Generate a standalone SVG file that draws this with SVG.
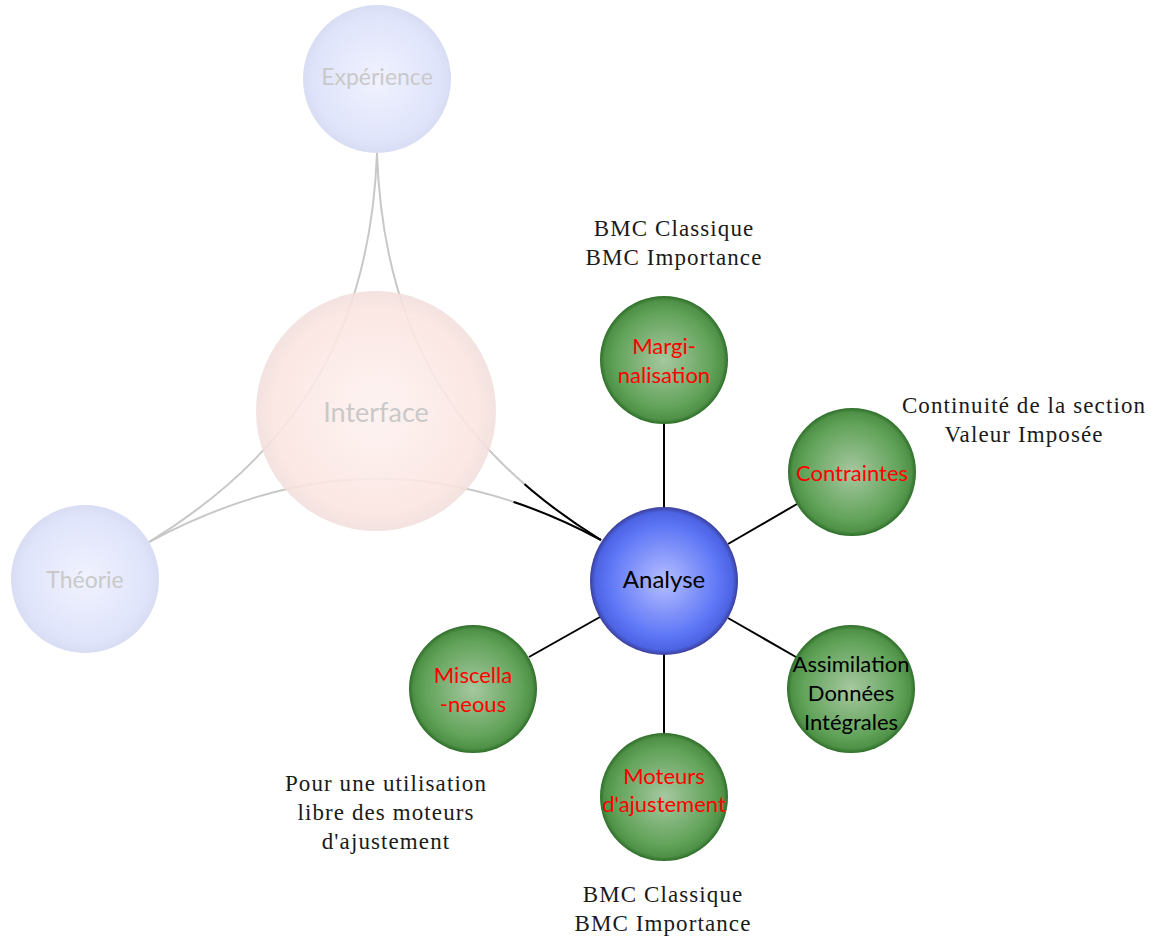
<svg xmlns="http://www.w3.org/2000/svg" width="1157" height="937" viewBox="0 0 1157 937">
  <defs>
    <radialGradient id="gGreen" cx="50%" cy="50%" r="50%">
      <stop offset="0" stop-color="#a6c8a0"/>
      <stop offset="0.75" stop-color="#62a35a"/>
      <stop offset="0.93" stop-color="#4f9147"/>
      <stop offset="1" stop-color="#2f6f2a"/>
    </radialGradient>
    <radialGradient id="gBlue" cx="50%" cy="50%" r="50%">
      <stop offset="0" stop-color="#b6beff"/>
      <stop offset="0.75" stop-color="#5d76f6"/>
      <stop offset="0.93" stop-color="#4c63e4"/>
      <stop offset="1" stop-color="#3b3f9a"/>
    </radialGradient>
    <radialGradient id="gFadeBlue" cx="50%" cy="50%" r="50%">
      <stop offset="0" stop-color="#f0f2fe"/>
      <stop offset="0.85" stop-color="#e0e4fb"/>
      <stop offset="1" stop-color="#d9ddf4"/>
    </radialGradient>
    <radialGradient id="gFadePink" cx="50%" cy="50%" r="50%">
      <stop offset="0" stop-color="#fdf2f0"/>
      <stop offset="0.85" stop-color="#fbe5e1"/>
      <stop offset="1" stop-color="#f1dfdd"/>
    </radialGradient>
    <clipPath id="nearAnalyse">
      <circle cx="664" cy="581" r="170"/>
    </clipPath>
  </defs>
  <style>
    .fade { font-family: Lato, "Liberation Sans", sans-serif; fill: #c9c9c9; text-anchor: middle; }
    .node { font-family: Lato, "Liberation Sans", sans-serif; font-size: 22px; text-anchor: middle; }
    .big { font-size: 24px; }
    .red { fill: #ff0000; }
    .blk { fill: #000000; }
    .note { font-family: "Liberation Serif", "Times New Roman", serif; font-size: 23px; letter-spacing: 1.1px; fill: #1a1a1a; text-anchor: middle; }
    .gray { fill: none; stroke: #c8c8c8; stroke-width: 2; }
    .dark { fill: none; stroke: #000000; stroke-width: 2; }
    .link { stroke: #000000; stroke-width: 2; }
  </style>

  <g id="connectors">
    <path class="gray" d="M377,153 C370.5,328.7 299.5,449.9 149,542"/>
    <path class="gray" d="M377,153 C383,328.6 451.5,447.8 601,540"/>
    <path class="gray" d="M149,542 C304,459 446,457 601,540"/>
    <g clip-path="url(#nearAnalyse)">
      <path class="dark" d="M377,153 C383,328.6 451.5,447.8 601,540"/>
      <path class="dark" d="M149,542 C304,459 446,457 601,540"/>
    </g>
    <line class="link" x1="664" y1="507" x2="664" y2="424"/>
    <line class="link" x1="728" y1="544" x2="797" y2="504"/>
    <line class="link" x1="728" y1="618" x2="796" y2="657"/>
    <line class="link" x1="664" y1="655" x2="664" y2="733"/>
    <line class="link" x1="600" y1="617" x2="529" y2="657"/>
  </g>

  <g id="interface">
    <circle cx="376" cy="411" r="120" fill="url(#gFadePink)" fill-opacity="0.9"/>
    <text class="fade" x="376" y="422" font-size="27">Interface</text>
  </g>
  <g id="experience">
    <circle cx="377" cy="79" r="74" fill="url(#gFadeBlue)"/>
    <text class="fade" x="377" y="85" font-size="23">Expérience</text>
  </g>
  <g id="theorie">
    <circle cx="85" cy="579" r="74" fill="url(#gFadeBlue)"/>
    <text class="fade" x="85" y="588" font-size="23">Théorie</text>
  </g>

  <g id="analyse">
    <circle cx="664" cy="581" r="74" fill="url(#gBlue)"/>
    <text class="node big blk" x="664" y="588">Analyse</text>
  </g>
  <g id="marginalisation">
    <circle cx="664" cy="360" r="64" fill="url(#gGreen)"/>
    <text class="node red" x="664" y="354">Margi-</text>
    <text class="node red" x="664" y="383">nalisation</text>
  </g>
  <g id="contraintes">
    <circle cx="852" cy="472" r="64" fill="url(#gGreen)"/>
    <text class="node red" x="852" y="481">Contraintes</text>
  </g>
  <g id="assimilation">
    <circle cx="851" cy="689" r="64" fill="url(#gGreen)"/>
    <text class="node blk" x="851" y="672">Assimilation</text>
    <text class="node blk" x="851" y="701">Données</text>
    <text class="node blk" x="851" y="730">Intégrales</text>
  </g>
  <g id="moteurs">
    <circle cx="664" cy="797" r="64" fill="url(#gGreen)"/>
    <text class="node red" x="664" y="784">Moteurs</text>
    <text class="node red" x="664" y="812">d'ajustement</text>
  </g>
  <g id="miscellaneous">
    <circle cx="473" cy="689" r="64" fill="url(#gGreen)"/>
    <text class="node red" x="473" y="683">Miscella</text>
    <text class="node red" x="473" y="712">-neous</text>
  </g>

  <g id="notes">
    <text class="note" x="674" y="236">BMC Classique</text>
    <text class="note" x="674" y="265">BMC Importance</text>
    <text class="note" x="1024" y="413">Continuité de la section</text>
    <text class="note" x="1024" y="442">Valeur Imposée</text>
    <text class="note" x="386" y="791">Pour une utilisation</text>
    <text class="note" x="386" y="820">libre des moteurs</text>
    <text class="note" x="386" y="849">d'ajustement</text>
    <text class="note" x="663" y="902">BMC Classique</text>
    <text class="note" x="663" y="931">BMC Importance</text>
  </g>
</svg>
